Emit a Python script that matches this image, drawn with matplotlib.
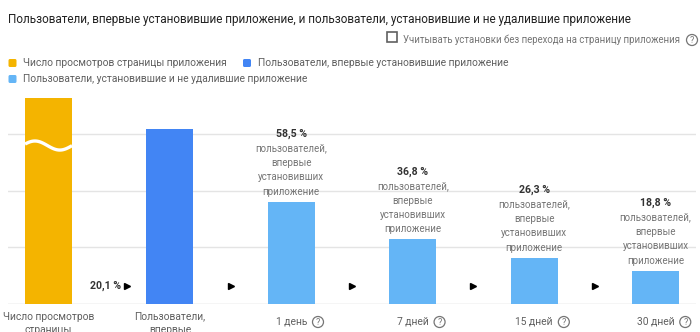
import numpy as np
import matplotlib
matplotlib.use("Agg")
import matplotlib.pyplot as plt
from matplotlib.patches import FancyBboxPatch, Rectangle, Circle
from matplotlib.transforms import IdentityTransform

W, H = 700, 332

TITLE = ("Пользователи, впервые установившие приложение, "
         "и пользователи, установившие и не удалившие приложение")
CHECKBOX_LABEL = "Учитывать установки без перехода на страницу приложения"
LEGEND_LABELS = [
    "Число просмотров страницы приложения",
    "Пользователи, впервые установившие приложение",
    "Пользователи, установившие и не удалившие приложение",
]
CATEGORIES = [
    "Число просмотров\nстраницы\nприложения",
    "Пользователи,\nвпервые\nустановившие\nприложение",
    "1 день", "7 дней", "15 дней", "30 дней",
]
FIRST_INSTALLS = 3080
CONVERSION_PCT = 20.1
PAGE_VIEWS = FIRST_INSTALLS / (CONVERSION_PCT / 100)
PAGE_VIEWS_CAP = 3630          # page-view bar is drawn broken at this height
RETAINED_PCT = [58.5, 36.8, 26.3, 18.8]
RETAINED_NOTE = "пользователей,\nвпервые\nустановивших\nприложение"

YELLOW, BLUE, LIGHT_BLUE = "#f4b400", "#4285f4", "#64b5f6"
TEXT_DARK, TEXT_MID, TEXT_GRAY = "#212121", "#5f5f5f", "#757575"

plt.rcParams["font.family"] = ["Roboto", "DejaVu Sans"]


def px(x, y):
    """Pixel position measured from the top-left corner -> display coords."""
    return x, H - y


def pct(v):
    return f"{v:.1f}".replace(".", ",") + " %"


def help_icon(fig, x, y):
    fig.add_artist(Circle(px(x, y), 5.5, transform=IdentityTransform(),
                          fc="white", ec=TEXT_GRAY, lw=0.9))
    fig.text(*px(x, y + 0.3), "?", transform=IdentityTransform(), fontsize=6.5,
             color=TEXT_GRAY, ha="center", va="center")


fig = plt.figure(figsize=(W / 100, H / 100), dpi=100)
ax = fig.add_axes([8 / W, (H - 303.5) / H, 688 / W, 213.5 / H])
ax.set_xlim(-0.334, 5.334)
ax.set_ylim(0, 213.5 / 56.5 * 1000)
for s in ax.spines.values():
    s.set_visible(False)
ax.set_xticks([])
ax.set_yticks([1000, 2000, 3000])
ax.tick_params(left=False, labelleft=False)
ax.yaxis.grid(True, color="#e4e4e4", lw=1.0)
ax.set_axisbelow(True)
ax.axhline(0, color="#d0d0d0", lw=1.0, zorder=1)

bw = 0.387
retained = [FIRST_INSTALLS * p / 100 for p in RETAINED_PCT]
heights = [min(PAGE_VIEWS, PAGE_VIEWS_CAP), FIRST_INSTALLS] + retained
colors = [YELLOW, BLUE] + [LIGHT_BLUE] * len(retained)
bars = ax.bar(range(len(heights)), heights, width=bw, color=colors, zorder=2)

# wavy white break across the truncated page-view bar
wave_x = np.linspace(-bw / 2, bw / 2, 80)
frac = (wave_x + bw / 2) / bw
wave_y = 2796 + 80 * np.sin(2 * np.pi * (0.052 + frac / 1.06))
wave, = ax.plot(wave_x, wave_y, color="white", lw=2.4, zorder=3,
                solid_capstyle="butt")
wave.set_clip_path(bars[0])

# conversion arrows between the steps
arrow_y = 17.5 / 56.5 * 1000
arrow_x = [0.647] + [i + 0.5 for i in range(1, len(heights) - 1)]
ax.plot(arrow_x, [arrow_y] * len(arrow_x), ls="none", marker=">", ms=4.2,
        color="black", zorder=3)
ax.text(0.595, arrow_y, pct(CONVERSION_PCT), ha="right", va="center",
        fontsize=7.6, fontweight="bold", color="#333333")

# retention notes above the light-blue bars
for i, (v, p) in enumerate(zip(retained, RETAINED_PCT), start=2):
    ax.annotate(RETAINED_NOTE, (i, v), xytext=(0, 5), textcoords="offset pixels",
                ha="center", va="bottom", fontsize=7, color=TEXT_GRAY,
                linespacing=1.55)
    ax.annotate(pct(p), (i, v), xytext=(0, 68), textcoords="offset pixels",
                ha="center", va="center", fontsize=7.6, fontweight="bold",
                color="#333333")

# category labels under the axis (long ones run past the bottom edge)
labels = []
for i, lab in enumerate(CATEGORIES):
    off = -8 if "\n" in lab else -13.5
    t = ax.annotate(lab, (i, 0), xytext=(0, off), textcoords="offset pixels",
                    ha="center", va="top", fontsize=7.4, color=TEXT_MID,
                    linespacing=1.45)
    labels.append(t)

# header: title, checkbox, legend
fig.text(*px(8, 19), TITLE, transform=IdentityTransform(), fontsize=8.5,
         color=TEXT_DARK, va="center")
fig.add_artist(Rectangle(px(387, 41.5), 9.5, 9.5, transform=IdentityTransform(),
                         fc="white", ec="#606060", lw=1.2))
fig.text(*px(403, 39.5), CHECKBOX_LABEL, transform=IdentityTransform(),
         fontsize=6.9, color=TEXT_GRAY, va="center")
help_icon(fig, 692, 40)

legend_pos = [(8.5, 63), (243, 63), (8.5, 79)]
for (lx, ly), lab, c in zip(legend_pos, LEGEND_LABELS, [YELLOW, BLUE, LIGHT_BLUE]):
    fig.add_artist(FancyBboxPatch(px(lx, ly + 4), 8, 8, transform=IdentityTransform(),
                                  boxstyle="round,pad=0,rounding_size=1.5",
                                  fc=c, ec="none"))
    fig.text(*px(lx + 14.5, ly), lab, transform=IdentityTransform(), fontsize=7.4,
             color=TEXT_MID, va="center")

# help icons next to the day labels
fig.canvas.draw()
for t in labels[2:]:
    bb = t.get_window_extent()
    help_icon(fig, bb.x1 + 11, H - (bb.y0 + bb.y1) / 2)

fig.savefig("out.png", dpi=100)
